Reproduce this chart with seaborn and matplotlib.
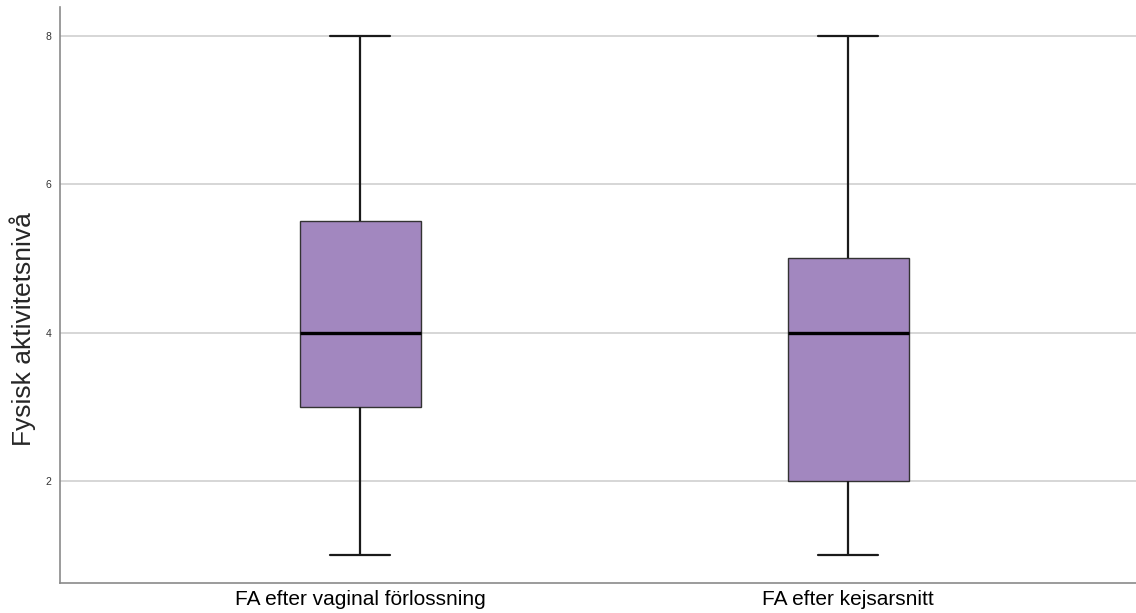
import matplotlib
matplotlib.use("Agg")
import matplotlib.pyplot as plt
import seaborn as sns
import pandas as pd

# Five-number summaries for each group
groups = ["FA efter vaginal förlossning", "FA efter kejsarsnitt"]
minimum = [1, 1]
q1 = [3, 2]
median = [4, 4]
q3 = [5.5, 5]
maximum = [8, 8]
y_ticks = [2, 4, 6, 8]

rows = []
for g, lo, a, m, b, hi in zip(groups, minimum, q1, median, q3, maximum):
    for v in (lo, a, m, b, hi):
        rows.append({"grupp": g, "niva": v})
df = pd.DataFrame(rows)

sns.set_theme(style="white")
plt.rcParams["font.family"] = ["Liberation Sans", "DejaVu Sans"]

fig = plt.figure(figsize=(11.36, 6.13), dpi=100)
ax = fig.add_axes([0.0528, 0.0489, 0.9472, 0.9397])

ax.set_axisbelow(True)
for t in y_ticks:
    ax.axhline(t, color="#d3d3d3", lw=1.3, zorder=0)

sns.boxplot(
    data=df, x="grupp", y="niva", order=groups, ax=ax,
    whis=(0, 100), width=0.248, color="#a287bf", saturation=1,
    linewidth=1.0, linecolor="#333333",
    boxprops=dict(edgecolor="#333333", linewidth=1.0),
    whiskerprops=dict(color="#1a1a1a", linewidth=1.6),
    capprops=dict(color="#1a1a1a", linewidth=1.6),
    medianprops=dict(color="black", linewidth=2.4),
    showfliers=False,
)

ax.set_xlim(-0.615, 1.59)
ax.set_ylim(0.622, 8.39)
ax.set_yticks(y_ticks)
ax.set_yticklabels([str(t) for t in y_ticks], fontsize=7.5, color="#333333")
ax.tick_params(axis="x", labelsize=15, colors="black", length=0, pad=5)
ax.tick_params(axis="y", length=0, pad=6)
ax.set_xlabel("")
ax.set_ylabel("Fysisk aktivitetsnivå", fontsize=19)
ax.yaxis.set_label_coords(-0.022, 0.441)

for side in ("top", "right"):
    ax.spines[side].set_visible(False)
for side in ("left", "bottom"):
    ax.spines[side].set_color("#8a8a8a")
    ax.spines[side].set_linewidth(1.2)

fig.savefig("out.png", dpi=100)
